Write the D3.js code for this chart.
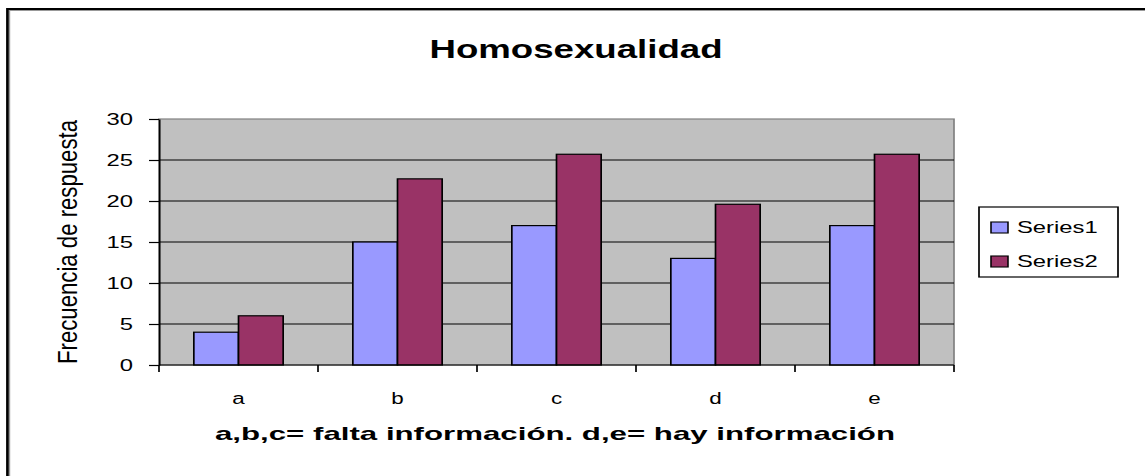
<!DOCTYPE html>
<html>
<head>
<meta charset="utf-8">
<script src="https://cdn.jsdelivr.net/npm/d3@7"></script>
<style>
  body { margin: 0; background: #fff; }
  text { font-family: "Liberation Sans", Arial, sans-serif; fill: #000; }
</style>
</head>
<body>
<div id="chart"></div>
<script>
// Chart values
var categories = ["a", "b", "c", "d", "e"];
var seriesNames = ["Series1", "Series2"];
var series1 = [4, 15, 17, 13, 17];
var series2 = [6, 22.7, 25.7, 19.6, 25.7];
var yTicks = [0, 5, 10, 15, 20, 25, 30];
var seriesColors = ["#9999ff", "#993366"];

var width = 1145, height = 476;

// the original picture was stretched sideways, so draw in a narrower space
// and scale it back out. positions below are given in screen pixels.
var SX = 1.4;
var sx = function(v) { return v / SX; };

var plot = { left: 159, right: 954, top: 119, bottom: 365 };

var svg = d3.select("#chart").append("svg")
  .attr("width", width)
  .attr("height", height);

var g = svg.append("g").attr("transform", "scale(" + SX + ",1)");

// Outer frame, runs off the bottom and the right of the window
g.append("rect")
  .attr("x", sx(7.5)).attr("y", 9)
  .attr("width", sx(1300)).attr("height", 600)
  .attr("fill", "none")
  .attr("stroke", "#000")
  .attr("stroke-width", 2);
g.append("rect")
  .attr("x", sx(9.5)).attr("y", 10.5)
  .attr("width", sx(1300)).attr("height", 600)
  .attr("fill", "none")
  .attr("stroke", "#999")
  .attr("stroke-width", 1);

// Scales
var x0 = d3.scaleBand()
  .domain(categories)
  .range([sx(plot.left), sx(plot.right)])
  .padding(0);

var x1 = d3.scaleBand()
  .domain(seriesNames)
  .range([0, x0.bandwidth()])
  .paddingInner(0)
  .paddingOuter(0.78);

var y = d3.scaleLinear()
  .domain([0, 30])
  .range([plot.bottom, plot.top]);

var color = d3.scaleOrdinal().domain(seriesNames).range(seriesColors);

// Plot background
g.append("rect")
  .attr("x", sx(plot.left)).attr("y", plot.top)
  .attr("width", sx(plot.right - plot.left)).attr("height", plot.bottom - plot.top)
  .attr("fill", "#c0c0c0")
  .attr("stroke", "#808080")
  .attr("stroke-width", 1.2);

// Gridlines
g.append("g")
  .selectAll("line")
  .data(yTicks.filter(function(d) { return d > 0 && d < 30; }))
  .join("line")
  .attr("x1", sx(plot.left)).attr("x2", sx(plot.right))
  .attr("y1", function(d) { return y(d); })
  .attr("y2", function(d) { return y(d); })
  .attr("stroke", "#000")
  .attr("stroke-width", 1);

// Bars
var rows = categories.map(function(c, i) {
  return { cat: c, values: [
    { name: seriesNames[0], value: series1[i] },
    { name: seriesNames[1], value: series2[i] }
  ] };
});

g.append("g")
  .selectAll("g")
  .data(rows)
  .join("g")
  .attr("transform", function(d) { return "translate(" + x0(d.cat) + ",0)"; })
  .selectAll("rect")
  .data(function(d) { return d.values; })
  .join("rect")
  .attr("x", function(d) { return x1(d.name); })
  .attr("y", function(d) { return y(d.value); })
  .attr("width", x1.bandwidth())
  .attr("height", function(d) { return y(0) - y(d.value); })
  .attr("fill", function(d) { return color(d.name); })
  .attr("stroke", "#000")
  .attr("stroke-width", 1.2);

// Y axis
var yAxis = g.append("g")
  .attr("transform", "translate(" + sx(plot.left) + ",0)")
  .call(d3.axisLeft(y).tickValues(yTicks).tickSize(sx(10)).tickPadding(sx(16)).tickSizeOuter(0));
yAxis.select(".domain").attr("stroke", "#000").attr("stroke-width", 1.2);
yAxis.selectAll(".tick line").attr("stroke", "#000").attr("stroke-width", 1.2);
yAxis.selectAll(".tick text")
  .attr("font-family", "Liberation Sans, Arial, sans-serif")
  .attr("font-size", 17)
  .attr("fill", "#000");

// X axis line and boundary ticks
g.append("line")
  .attr("x1", sx(plot.left)).attr("x2", sx(plot.right))
  .attr("y1", plot.bottom).attr("y2", plot.bottom)
  .attr("stroke", "#000").attr("stroke-width", 1.2);

var bounds = categories.map(function(c) { return x0(c); }).concat([x0.range()[1]]);
g.append("g")
  .selectAll("line")
  .data(bounds)
  .join("line")
  .attr("x1", function(d) { return d; }).attr("x2", function(d) { return d; })
  .attr("y1", plot.bottom).attr("y2", plot.bottom + 7)
  .attr("stroke", "#000").attr("stroke-width", 1.2);

g.append("g")
  .selectAll("text")
  .data(categories)
  .join("text")
  .attr("x", function(d) { return x0(d) + x0.bandwidth() / 2; })
  .attr("y", 404)
  .attr("text-anchor", "middle")
  .attr("font-size", 16)
  .text(function(d) { return d; });

// Titles
g.append("text")
  .attr("x", sx(576)).attr("y", 58)
  .attr("text-anchor", "middle")
  .attr("font-size", 25)
  .attr("font-weight", "bold")
  .attr("textLength", sx(293))
  .attr("lengthAdjust", "spacingAndGlyphs")
  .text("Homosexualidad");

g.append("text")
  .attr("x", sx(555)).attr("y", 440)
  .attr("text-anchor", "middle")
  .attr("font-size", 19)
  .attr("font-weight", "bold")
  .attr("textLength", sx(680))
  .attr("lengthAdjust", "spacingAndGlyphs")
  .text("a,b,c= falta información. d,e= hay información");

g.append("text")
  .attr("transform", "translate(" + sx(77) + "," + (plot.top + plot.bottom) / 2 + ") rotate(-90)")
  .attr("text-anchor", "middle")
  .attr("font-size", 20)
  .attr("textLength", 244)
  .attr("lengthAdjust", "spacingAndGlyphs")
  .text("Frecuencia de respuesta");

// Legend
var legend = g.append("g");
legend.append("rect")
  .attr("x", sx(979)).attr("y", 207)
  .attr("width", sx(1118 - 979)).attr("height", 70)
  .attr("fill", "#fff")
  .attr("stroke", "#000")
  .attr("stroke-width", 1.2);

var legendItem = legend.selectAll("g.item")
  .data(seriesNames)
  .join("g")
  .attr("class", "item")
  .attr("transform", function(d, i) { return "translate(0," + (222 + i * 34) + ")"; });

legendItem.append("rect")
  .attr("x", sx(991)).attr("y", 0)
  .attr("width", sx(17)).attr("height", 11)
  .attr("fill", function(d) { return color(d); })
  .attr("stroke", "#000")
  .attr("stroke-width", 1.1);

legendItem.append("text")
  .attr("x", sx(1017)).attr("y", 11)
  .attr("font-size", 17)
  .text(function(d) { return d; });
</script>
</body>
</html>
